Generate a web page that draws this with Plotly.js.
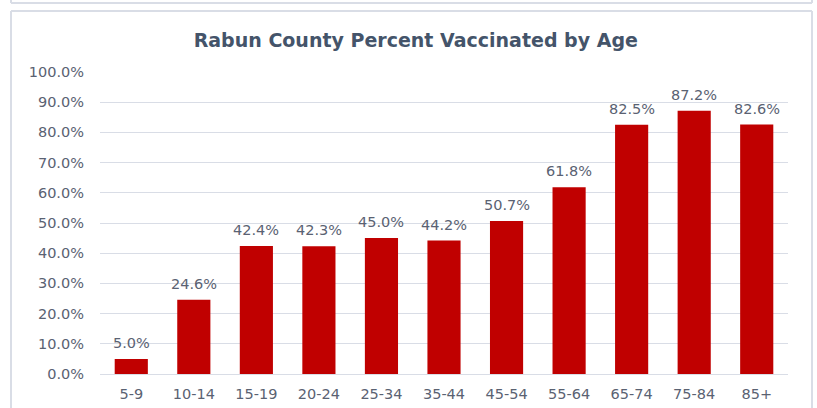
<!DOCTYPE html>
<html>
<head>
<meta charset="utf-8">
<script src="https://cdn.plot.ly/plotly-3.0.1.min.js"></script>
<style>html,body{margin:0;padding:0;background:#fff;}#chart{width:817px;height:408px;}</style>
</head>
<body>
<div id="chart"></div>
<script>
const ageGroups = ["5-9","10-14","15-19","20-24","25-34","35-44","45-54","55-64","65-74","75-84","85+"];
const pctVaccinated = [0.050,0.246,0.424,0.423,0.450,0.442,0.507,0.618,0.825,0.872,0.826];
const yTickVals = [0,0.1,0.2,0.3,0.4,0.5,0.6,0.7,0.8,0.9,1.0];
const yTickText = ["0.0%","10.0%","20.0%","30.0%","40.0%","50.0%","60.0%","70.0%","80.0%","90.0%","100.0%"];

const labelColor = "#5a6272";
const fontFam = "DejaVu Sans, Verdana, sans-serif";
const trace = {
  type: "bar",
  x: ageGroups,
  y: pctVaccinated,
  marker: {color: "#c00000"},
  hoverinfo: "x+y"
};
const annotations = ageGroups.map((g, i) => ({
  x: g, y: pctVaccinated[i], xref: "x", yref: "y",
  text: (pctVaccinated[i]*100).toFixed(1) + "%",
  showarrow: false, yanchor: "bottom", yshift: 6,
  font: {family: fontFam, size: 14.5, color: labelColor}
}));
const border = "#d9dde6";
const L = -89/688, R = 712/688;
const layout = {
  width: 817, height: 408,
  margin: {l: 100, r: 29, t: 72, b: 34},
  paper_bgcolor: "#ffffff",
  plot_bgcolor: "#ffffff",
  bargap: 0.47,
  showlegend: false,
  title: {
    text: "<b>Rabun County Percent Vaccinated by Age</b>",
    font: {family: fontFam, size: 19, color: "#44546a"},
    x: 0.459, xanchor: "center", xref: "paper",
    y: 0.9, yanchor: "middle", yref: "container"
  },
  xaxis: {
    type: "category",
    tickfont: {family: fontFam, size: 14.5, color: labelColor},
    showgrid: false, showline: false, ticks: "", zeroline: false,
    ticklabelstandoff: 9
  },
  yaxis: {
    range: [0, 1.0],
    tickvals: yTickVals,
    ticktext: yTickText,
    tickfont: {family: fontFam, size: 14.5, color: labelColor},
    showgrid: true, gridcolor: "#d9dde6", gridwidth: 1,
    zeroline: true, zerolinecolor: "#d9dde6", zerolinewidth: 1,
    showline: false, ticks: "", ticklabelstandoff: 15
  },
  annotations: annotations,
  shapes: [
    {type: "line", xref: "paper", yref: "paper", x0: L, x1: R, y0: 1 + 69/302, y1: 1 + 69/302, line: {color: border, width: 2}},
    {type: "line", xref: "paper", yref: "paper", x0: L, x1: L, y0: 1 + 69/302, y1: 1 + 80/302, line: {color: border, width: 2}},
    {type: "line", xref: "paper", yref: "paper", x0: R, x1: R, y0: 1 + 69/302, y1: 1 + 80/302, line: {color: border, width: 2}},
    {type: "line", xref: "paper", yref: "paper", x0: L, x1: R, y0: 1 + 61/302, y1: 1 + 61/302, line: {color: border, width: 2}},
    {type: "line", xref: "paper", yref: "paper", x0: L, x1: L, y0: 1 + 61/302, y1: -40/302, line: {color: border, width: 2}},
    {type: "line", xref: "paper", yref: "paper", x0: R, x1: R, y0: 1 + 61/302, y1: -40/302, line: {color: border, width: 2}}
  ]
};
Plotly.newPlot("chart", [trace], layout, {displayModeBar: false, staticPlot: true});
</script>
</body>
</html>
